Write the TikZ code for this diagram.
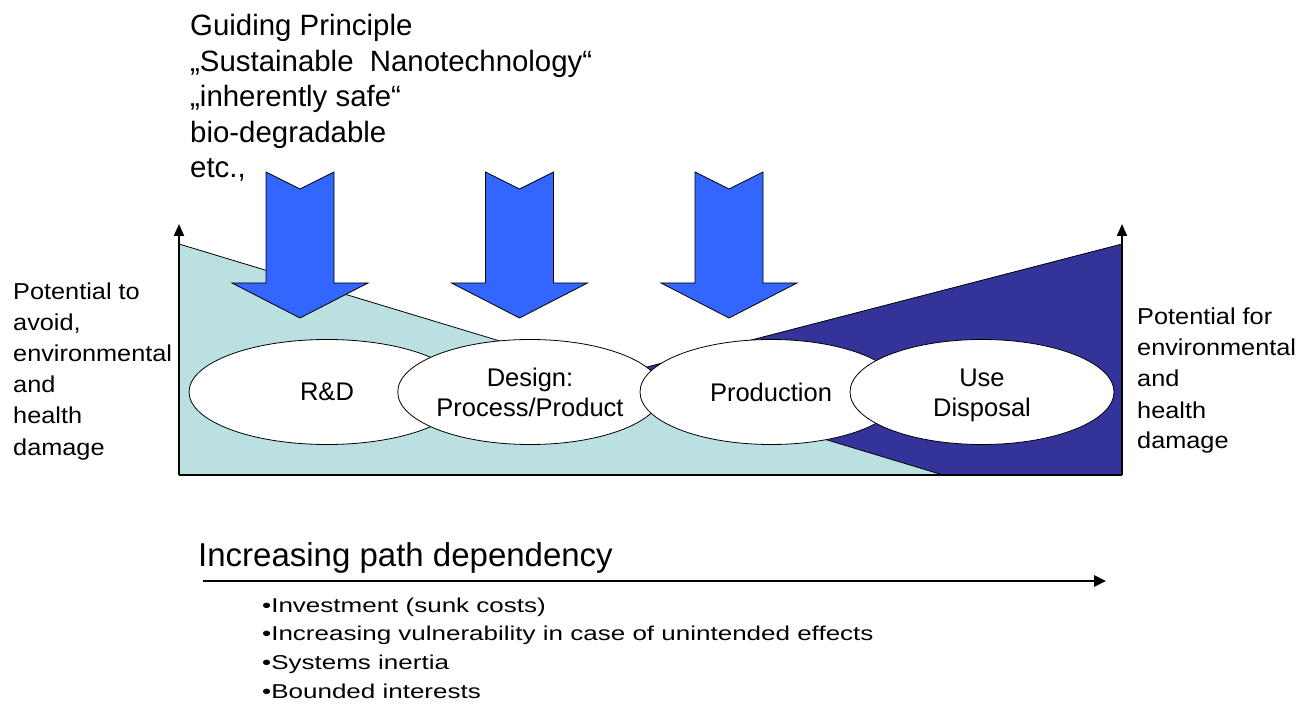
\documentclass[tikz,border=0pt]{standalone}
\usepackage{fontspec}
\setmainfont{Liberation Sans}
\newfontfamily\sidefont[FakeStretch=1.1]{Liberation Sans}
\newfontfamily\bulfont[FakeStretch=1.3]{Liberation Sans}
\usetikzlibrary{shapes.geometric,arrows.meta}
\definecolor{lightteal}{RGB}{186,224,226}
\definecolor{myDark}{RGB}{51,51,153}
\definecolor{arrowblue}{RGB}{51,102,255}
\begin{document}
\begin{tikzpicture}[x=1pt,y=-1pt,
  stage/.style={ellipse,draw=black,line width=0.8pt,fill=white,minimum height=105pt,inner sep=0pt,align=center,font=\fontsize{25.5}{30}\selectfont},
  txt/.style={anchor=base west,inner sep=0pt},
  axisline/.style={line width=2pt,-{Triangle[length=12pt,width=10pt]}},
  bigarrow/.pic={\filldraw[fill=arrowblue,draw=black,line width=0.8pt] (-34,172) -- (0,189) -- (34,172) -- (34,283) -- (68,283) -- (0,318) -- (-68,283) -- (-34,283) -- cycle;}
]
\useasboundingbox (0,0) rectangle (1312,708);

% corner coordinates
\coordinate (O) at (179,475);
\coordinate (OR) at (1122,475);
\coordinate (LT) at (179,244);
\coordinate (RT) at (1122,244);
\coordinate (Dend) at (230,475);
\coordinate (Lend) at (943,475);
\coordinate (LA) at (179,224);
\coordinate (RA) at (1122,224);

% triangles
\filldraw[fill=myDark,draw=black,line width=0.8pt] (RT) -- (OR) -- (Dend) -- cycle;
\filldraw[fill=lightteal,draw=black,line width=0.8pt] (LT) -- (Lend) -- (O) -- cycle;

% axes
\draw[line width=2pt] (O) -- (OR);
\draw[axisline] (O) -- (LA);
\draw[axisline] (OR) -- (RA);

% stages
\node[stage,minimum width=276pt] (rd) at (327,392) {R\&D};
\node[stage,minimum width=260pt] (design) at (530,392) {Design:\\Process/Product};
\node[stage,minimum width=262pt] (prod) at (771,392) {Production};
\node[stage,minimum width=264pt] (use) at (982,392) {};
\node[align=center,inner sep=0pt,font=\fontsize{25.5}{30}\selectfont] (usetext) at (982,395.5) {Use\\Disposal};

% big arrows
\pic (a1) at (300,0) {bigarrow};
\pic (a2) at (519.5,0) {bigarrow};
\pic (a3) at (729,0) {bigarrow};

% guiding principle text
\foreach \t [count=\i] in {Guiding Principle,{„Sustainable\ \ Nanotechnology“},„inherently safe“,bio-degradable,{etc.,}}
  \node[txt,font=\fontsize{29.4}{35}\selectfont] (g\i) at (190,{36+35.5*(\i-1)}) {\t};

% left label
\foreach \t [count=\i] in {Potential to,{avoid,},environmental,and,health,damage}
  \node[txt,font=\sidefont\fontsize{23}{31}\selectfont] (l\i) at (13,{300+31*(\i-1)}) {\t};

% right label
\foreach \t [count=\i] in {Potential for,environmental,and,health,damage}
  \node[txt,font=\sidefont\fontsize{23}{31}\selectfont] (r\i) at (1137,{325+31*(\i-1)}) {\t};

% path dependency
\node[txt,font=\fontsize{33}{40}\selectfont] (pd) at (198,566) {Increasing path dependency};
\coordinate (PA) at (203,581);
\coordinate (PB) at (1106,581);
\draw[line width=2.5pt,-{Triangle[length=12pt,width=11pt]}] (PA) -- (PB);

% bullets
\foreach \t [count=\i] in {Investment (sunk costs),Increasing vulnerability in case of unintended effects,Systems inertia,Bounded interests}
  \node[txt,font=\bulfont\fontsize{20}{29}\selectfont] (b\i) at (262,{612+28.7*(\i-1)}) {•\t};
\end{tikzpicture}
\end{document}
